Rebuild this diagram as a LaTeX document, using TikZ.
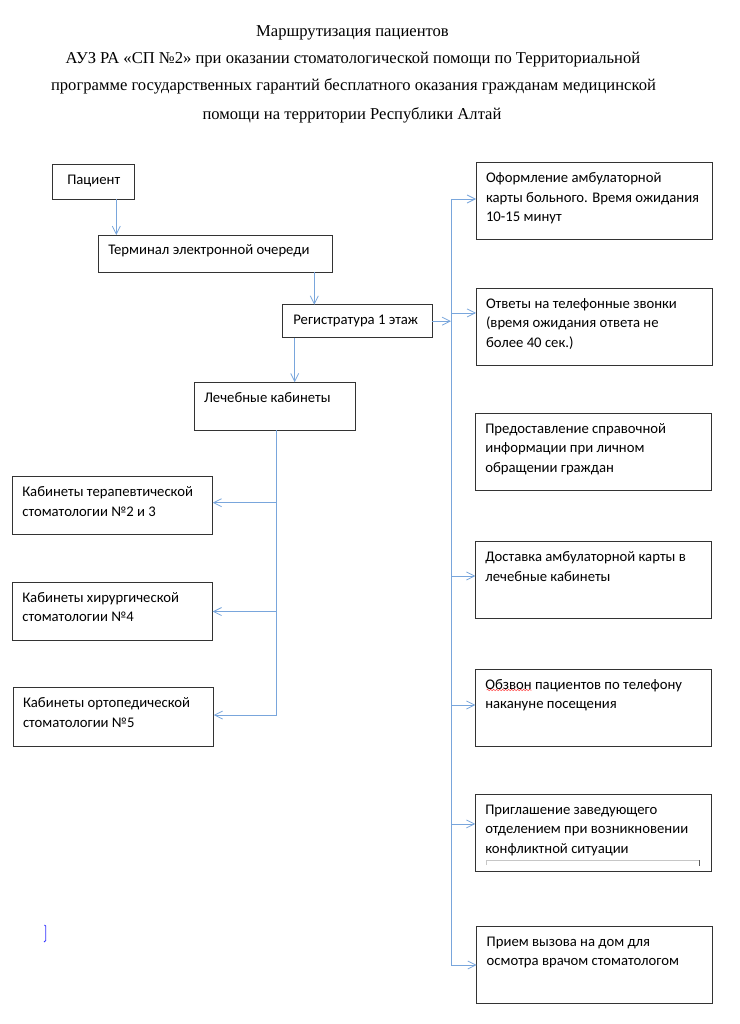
\documentclass[tikz,border=0pt]{standalone}
\usepackage{fontspec}
\setmainfont{Liberation Serif}
\newfontfamily\boxfam{Carlito}
\usetikzlibrary{arrows.meta,decorations.pathmorphing}
\definecolor{conncol}{HTML}{79A6DC}
\definecolor{boxcol}{HTML}{333333}
\newcommand\titlefont{\fontsize{16.6}{20}\selectfont}
\newcommand\bxfont{\boxfam\fontsize{14.7}{19.5}\selectfont}
\tikzset{
  box/.style={draw=boxcol, line width=0.9pt, inner sep=0pt, outer sep=0pt, fill=white},
  conn/.style={draw=conncol, line width=0.9pt, -{Straight Barb[length=8pt,width=8pt,line width=0.8pt]}},
  bus/.style={draw=conncol, line width=0.9pt},
  ttl/.style={font=\titlefont, anchor=base, inner sep=0pt}
}
% name, x, y, w, h, pad, text
\newcommand\bx[7]{%
  \node[box, anchor=north west] (#1) at (#2pt,-#3pt)
    {\parbox[c][#5pt][t]{#4pt}{\bxfont\raggedright\leftskip=#6pt\rule{0pt}{20pt}#7}};}
\begin{document}
\begin{tikzpicture}[x=1pt,y=1pt]
\useasboundingbox[fill=white] (0,0) rectangle (739,-1024);

% title
\node[ttl] (t1) at (352.5,-37) {Маршрутизация пациентов};
\node[ttl] (t2) at (353,-64) {АУЗ РА «СП №2» при оказании стоматологической помощи по Территориальной};
\node[ttl] (t3) at (353.5,-91) {программе государственных гарантий бесплатного оказания гражданам медицинской};
\node[ttl] (t4) at (352,-120) {помощи на территории Республики Алтай};

% left chain
\bx{pac}{52.3}{164.3}{82}{35}{15}{Пациент}
\bx{term}{98.3}{235}{234.4}{37.3}{10}{Терминал электронной очереди}
\bx{reg}{282.3}{304.7}{150}{33}{11}{Регистратура 1 этаж}
\bx{lech}{194}{382.3}{161}{48}{10}{Лечебные кабинеты}
\bx{l1}{12.3}{476.7}{200.4}{57.6}{10}{Кабинеты терапевтической\\стоматологии №2 и 3}
\bx{l2}{12.3}{582.3}{200.4}{58.4}{10}{Кабинеты хирургической\\стоматологии №4}
\bx{l3}{13}{687.7}{200.7}{58.3}{10}{Кабинеты ортопедической\\стоматологии №5}

% right column
\bx{r1}{476}{162.7}{236.7}{76.6}{10}{Оформление амбулаторной\\карты больного. Время ожидания\\10-15 минут}
\bx{r2}{476}{288.3}{236.7}{76.7}{10}{Ответы на телефонные звонки\\(время ожидания ответа не\\более 40 сек.)}
\bx{r3}{475.3}{413.3}{236.4}{77.4}{10}{Предоставление справочной\\информации при личном\\обращении граждан}
\bx{r4}{475.3}{541.7}{236.4}{76.6}{10}{Доставка амбулаторной карты в\\лечебные кабинеты}
\bx{r5}{475.3}{669}{236.4}{77}{10}{Обзвон пациентов по телефону\\накануне посещения}
\bx{r6}{475.3}{794.3}{236.4}{76.7}{10}{Приглашение заведующего\\отделением при возникновении\\конфликтной ситуации}
\bx{r7}{476.7}{926}{236}{77.3}{10}{Прием вызова на дом для\\осмотра врачом стоматологом}

% main chain connectors
\draw[conn] ([xshift=64pt]pac.south west) -- ([xshift=64pt]pac.south west |- term.north);
\draw[conn] ([xshift=216pt]term.south west) -- ([xshift=216pt]term.south west |- reg.north);
\draw[conn] ([xshift=12.4pt]reg.south west) -- ([xshift=12.4pt]reg.south west |- lech.north);

% right bus
\coordinate (bt) at (451,-199);
\coordinate (bb) at (451,-965);
\draw[bus] (bt) -- (bb);
\draw[conn] (reg.east) -- (reg.east -| bt);
\draw[conn] (bt) -- (bt -| r1.west);
\draw[conn] ([yshift=13.7pt]r2.west -| bt) -- ([yshift=13.7pt]r2.west);
\draw[conn] ([yshift=4pt]r4.west -| bt) -- ([yshift=4pt]r4.west);
\draw[conn] ([yshift=2.5pt]r5.west -| bt) -- ([yshift=2.5pt]r5.west);
\draw[conn] ([yshift=8.7pt]r6.west -| bt) -- ([yshift=8.7pt]r6.west);
\draw[conn] (bb) -- (bb -| r7.west);

% left bus
\coordinate (lt) at ([xshift=82.7pt]lech.south west);
\coordinate (lbot) at ([yshift=1.8pt]l3.east -| lt);
\draw[bus] (lt) -- (lbot);
\draw[conn] ([yshift=2.8pt]l1.east -| lt) -- ([yshift=2.8pt]l1.east);
\draw[conn] (l2.east -| lt) -- (l2.east);
\draw[conn] (lbot) -- ([yshift=1.8pt]l3.east);

% artefacts of the original
\draw[red!80, line width=0.5pt, decorate, decoration={snake, amplitude=0.7pt, segment length=3pt}]
  (486.7,-690) -- (531.7,-690);
\draw[gray!45, line width=0.7pt] (486.7,-865) -- (486.7,-860) -- (699,-860);
\draw[gray!70!black, line width=0.9pt] (699,-860) -- (699,-866);
\draw[blue!80!white, line width=0.9pt] (44.5,-925) -- (45.7,-926) -- (45.7,-940.5) -- (44,-942);
\end{tikzpicture}
\end{document}
